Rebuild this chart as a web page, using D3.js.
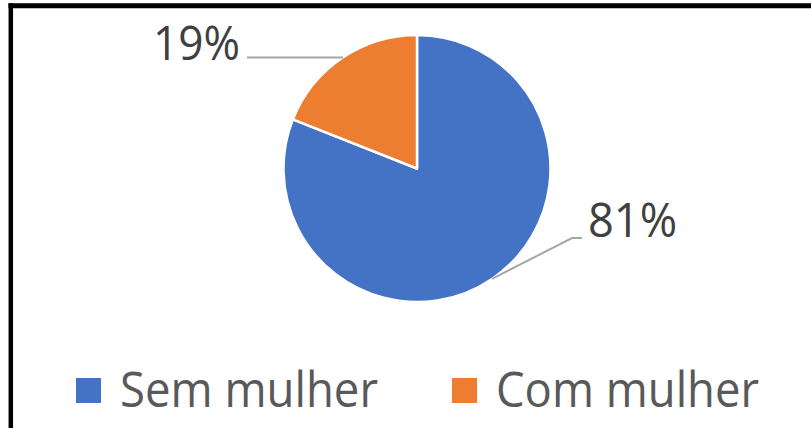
<!DOCTYPE html>
<html><head><meta charset="utf-8">
<script src="https://cdn.jsdelivr.net/npm/d3@7"></script>
<style>html,body{margin:0;padding:0;background:#fff;}svg{display:block;}</style>
</head><body>
<svg id="chart" width="811" height="428"></svg>
<script>
const categories = ["Sem mulher", "Com mulher"];
const values = [81, 19];
const labels = ["81%", "19%"];
const colors = ["#4472C4", "#ED7D31"];

const svg = d3.select("#chart");
const W = 811, H = 428;
svg.append("rect").attr("width", W).attr("height", H).attr("fill", "#fff");
// frame (top and left edges)
svg.append("line").attr("x1", 8.5).attr("x2", W).attr("y1", 5.7).attr("y2", 5.7).attr("stroke", "#000").attr("stroke-width", 5);
svg.append("line").attr("x1", 10.8).attr("x2", 10.8).attr("y1", 3.2).attr("y2", H).attr("stroke", "#000").attr("stroke-width", 4.5);

const cx = 417, cy = 168.5, r = 133.5;
const data = categories.map((c, i) => ({ cat: c, value: values[i], label: labels[i], color: colors[i] }));
const pie = d3.pie().value(d => d.value).sort(null);
const arcs = pie(data);
const arc = d3.arc().innerRadius(0).outerRadius(r);
const edge = d3.arc().innerRadius(r).outerRadius(r);

const g = svg.append("g").attr("transform", `translate(${cx},${cy})`);
g.selectAll("path").data(arcs).enter().append("path")
  .attr("d", arc).attr("fill", d => d.data.color)
  .attr("stroke", "#fff").attr("stroke-width", 2.5).attr("stroke-linejoin", "round");

const font = "'Open Sans', 'Noto Sans', sans-serif";
// leader lines and labels
const labelCfg = [
  { elbow: [155, 69.5], end: [165, 69.5], tx: 171, ty: 68.5, w: 89 },
  { elbow: [-75, -111], end: [-170, -111], tx: -264, ty: -108.5, w: 87 }
];
arcs.forEach((a, i) => {
  const p = edge.centroid(a);
  const cfg = labelCfg[i];
  g.append("polyline")
    .attr("points", [p, cfg.elbow, cfg.end].map(q => q.join(",")).join(" "))
    .attr("fill", "none").attr("stroke", "#A6A6A6").attr("stroke-width", 2);
  g.append("text").attr("x", cfg.tx).attr("y", cfg.ty)
    .attr("font-family", font).attr("font-size", 48)
    .attr("textLength", cfg.w).attr("lengthAdjust", "spacingAndGlyphs")
    .attr("fill", "#404040").text(a.data.label);
});

// legend
const legendX = [76, 452];
const legendW = [258, 263];
const leg = svg.append("g");
data.forEach((d, i) => {
  leg.append("rect").attr("x", legendX[i]).attr("y", 378).attr("width", 25).attr("height", 25).attr("fill", d.color);
  leg.append("text").attr("x", legendX[i] + 44).attr("y", 407)
    .attr("font-family", font).attr("font-size", 50)
    .attr("textLength", legendW[i]).attr("lengthAdjust", "spacingAndGlyphs")
    .attr("fill", "#595959").text(d.cat);
});
</script>
</body></html>
